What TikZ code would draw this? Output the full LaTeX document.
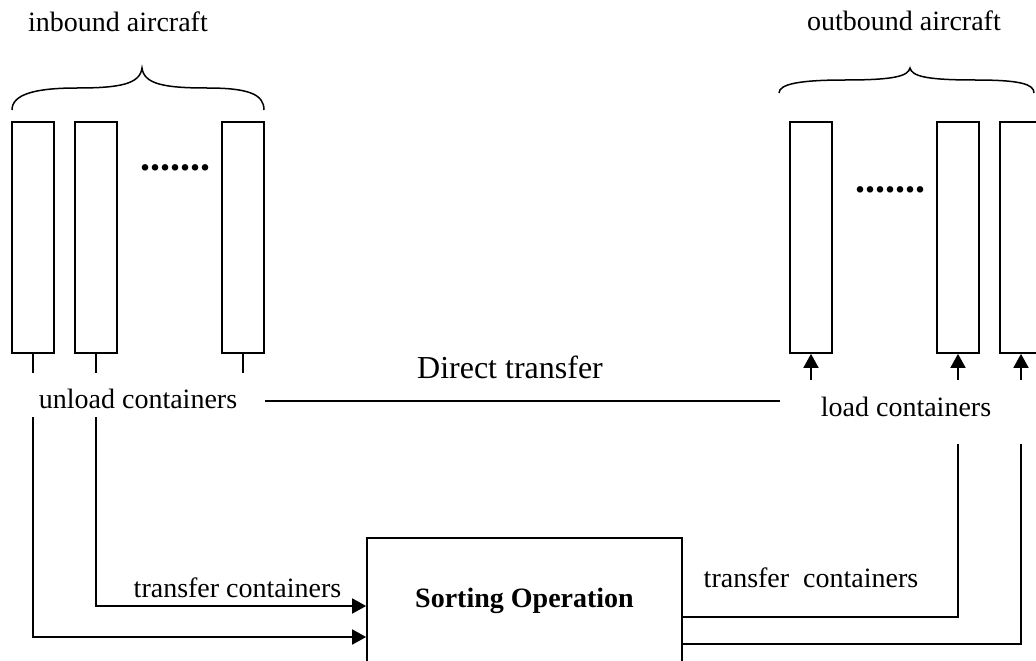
\documentclass[tikz,border=0pt]{standalone}
\usepackage{fontspec}
\setmainfont{Liberation Serif}
\usetikzlibrary{arrows.meta}
\begin{document}
\begin{tikzpicture}[x=1pt,y=-1pt,
  line width=1.7pt,
  bay/.style={draw,rectangle,inner sep=0pt,minimum width=42pt,minimum height=231pt},
  lbl/.style={inner sep=0pt,anchor=base,font=\fontsize{28}{32}\selectfont},
  biglbl/.style={inner sep=0pt,anchor=base,font=\fontsize{32}{36}\selectfont},
  dotrow/.style={inner sep=0pt,anchor=base west,font=\fontsize{40}{44}\selectfont\bfseries},
  arr/.style={-{Triangle[length=14pt,width=15pt]}},
  sortbox/.style={draw,rectangle,inner sep=0pt,minimum width=315pt,minimum height=162pt}]
\useasboundingbox (0,0) rectangle (1036,661);

% inbound aircraft
\node[lbl] (intitle) at (118,32) {inbound aircraft};
\draw[line width=1.5pt] (12,110) .. controls (12,94) and (36,88) .. (77,88)
  .. controls (120,88) and (140,84) .. (142,68)
  .. controls (144,84) and (164,88) .. (207,88)
  .. controls (248,88) and (264,94) .. (264,110);
\node[bay] (in1) at (33,237.5) {};
\node[bay] (in2) at (96,237.5) {};
\node[bay] (in3) at (243,237.5) {};
\node[dotrow] (indots) at (140,170) {.......};

% outbound aircraft
\node[lbl] (outtitle) at (904,31) {outbound aircraft};
\draw[line width=1.5pt] (779,93) .. controls (779,84) and (800,80) .. (845,80)
  .. controls (895,80) and (908,76) .. (910,68)
  .. controls (912,76) and (925,80) .. (975,80)
  .. controls (1020,80) and (1034,84) .. (1034,93);
\node[bay] (out1) at (811,237.5) {};
\node[bay] (out2) at (958,237.5) {};
\node[bay] (out3) at (1021,237.5) {};
\node[dotrow] (outdots) at (855,192) {.......};

% unloading side
\coordinate (s1) at (33,373);
\coordinate (s2) at (96,373);
\coordinate (s3) at (243,373);
\draw (in1.south) -- (s1);
\draw (in2.south) -- (s2);
\draw (in3.south) -- (s3);
\node[lbl] (unload) at (138,408) {unload containers};

% loading side
\coordinate (t1) at (811,380);
\coordinate (t2) at (958,380);
\coordinate (t3) at (1021,380);
\draw[arr] (t1) -- (out1.south);
\draw[arr] (t2) -- (out2.south);
\draw[arr] (t3) -- (out3.south);
\node[lbl] (load) at (906,416) {load containers};

% direct transfer
\coordinate (dt1) at (265,401);
\coordinate (dt2) at (780,401);
\draw (dt1) -- (dt2);
\node[biglbl] (direct) at (510,378) {Direct transfer};

% sorting operation
\node[sortbox] (sort) at (524.5,619) {};
\node[lbl,font=\fontsize{28}{32}\selectfont\bfseries] (sorttxt) at (524.5,607) {Sorting Operation};

\coordinate (u1) at (33,417);
\coordinate (u2) at (96,417);
\draw[arr] (u2) |- ([yshift=13pt]sort.west);
\draw[arr] (u1) |- ([yshift=-18pt]sort.west);
\node[lbl] (tcl) at (237.5,597) {transfer containers};

\coordinate (l2) at (958,444);
\coordinate (l3) at (1021,444);
\draw ([yshift=2pt]sort.east) -| (l2);
\draw ([yshift=-25pt]sort.east) -| (l3);
\node[lbl] (tcr) at (811,587) {transfer\ \ containers};
\end{tikzpicture}
\end{document}
